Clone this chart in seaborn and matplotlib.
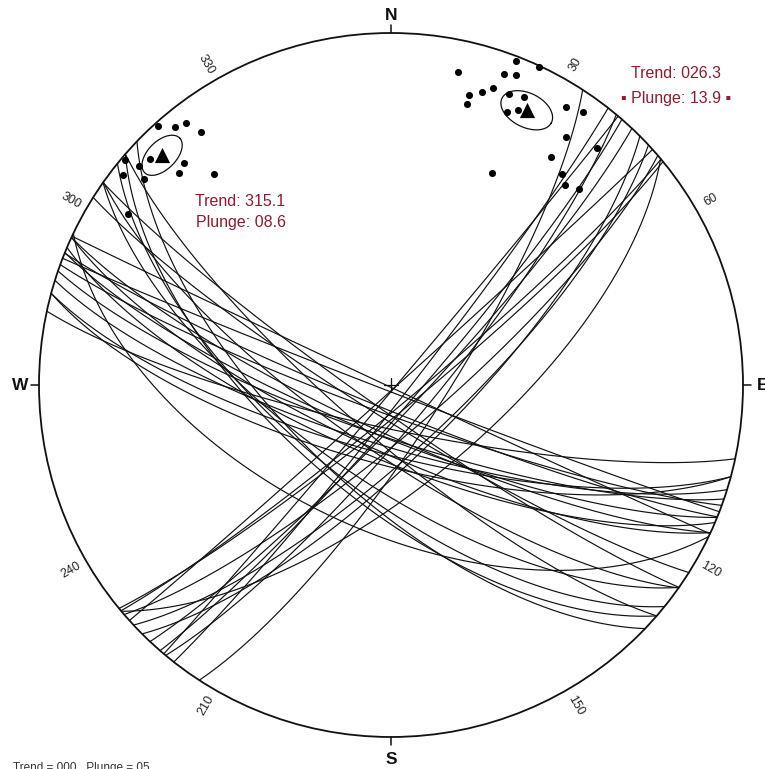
import numpy as np
import pandas as pd
import matplotlib
matplotlib.use("Agg")
import matplotlib.pyplot as plt
from matplotlib.patches import Circle
import seaborn as sns

# ---------------- data ----------------
# poles, NW cluster (trend, plunge in degrees)
poleA_trend = [318.0, 320.1, 322.0, 323.1, 310.2, 313.2, 317.0, 311.0, 308.1, 315.0, 309.8, 320.0, 303.0]
poleA_plunge = [1.0, 5.0, 6.2, 11.1, 1.0, 6.8, 14.9, 5.8, 3.7, 15.9, 9.5, 22.8, 11.9]
# poles, NNE cluster
poleB_trend = [12.1, 21.1, 25.0, 20.0, 22.0, 15.1, 17.3, 18.9, 15.1, 22.1, 24.8, 24.8, 23.0,
               32.2, 35.1, 35.2, 41.0, 35.1, 39.0, 41.0, 43.8, 25.5]
poleB_plunge = [10.0, 1.5, 0.5, 6.7, 5.6, 15.8, 13.9, 11.8, 18.4, 11.8, 10.8, 15.0, 16.9,
                7.4, 5.8, 14.9, 11.8, 21.9, 23.9, 25.7, 23.9, 33.7]
# great circles (right-hand-rule strike, dip)
planeA_strike = [48.0, 50.1, 50.6, 49.3, 40.2, 43.2, 47.0, 41.0, 38.1, 45.0, 39.8, 50.0, 33.0]
planeA_dip = [89.0, 85.0, 83.8, 78.9, 89.0, 83.2, 75.1, 84.2, 86.3, 74.1, 80.5, 67.2, 78.1]
planeB_strike = [102.1, 111.1, 115.0, 110.0, 112.0, 105.1, 107.3, 108.9, 105.1, 112.1, 114.8, 114.8, 113.0,
                 122.2, 125.1, 125.2, 131.0, 125.1, 129.0, 131.0, 133.8, 115.5]
planeB_dip = [80.0, 88.5, 89.5, 83.3, 84.4, 74.2, 76.1, 78.2, 71.6, 78.2, 79.2, 75.0, 73.1,
              82.6, 84.2, 75.1, 78.2, 68.1, 66.1, 64.3, 66.1, 56.3]
# mean poles and confidence cones
mean_trend = [315.1, 26.3]
mean_plunge = [8.6, 13.9]
cone_angle = [4.3, 5.0]
mean_labels = [["Trend: 315.1", "Plunge: 08.6"], ["Trend: 026.3", "\u25aa Plunge: 13.9 \u25aa"]]
tick_values = [30, 60, 120, 150, 210, 240, 300, 330]
cardinals = ["N", "E", "S", "W"]
footer_text = "Trend = 000   Plunge = 05"

# ---------------- helpers ----------------
CX, CY, R = 391, 385, 352
W_PX, H_PX = 765, 769
RED = "#8e1b2e"


def px(x, y):
    return (x - CX) / R, (CY - y) / R


def vec(trend, plunge):
    t, p = np.radians(trend), np.radians(plunge)
    return np.array([np.cos(p) * np.sin(t), np.cos(p) * np.cos(t), np.sin(p)])


def proj(v):
    e, n, d = v
    d = np.abs(d)
    return e / np.sqrt(1 + d), n / np.sqrt(1 + d)


def great_circle(strike, dip, n=240):
    s, dd, dp = np.radians(strike), np.radians(strike + 90), np.radians(dip)
    sv = np.array([np.sin(s), np.cos(s), 0.0])
    dv = np.array([np.sin(dd) * np.cos(dp), np.cos(dd) * np.cos(dp), np.sin(dp)])
    phi = np.linspace(0, np.pi, n)
    pts = np.outer(np.cos(phi), sv) + np.outer(np.sin(phi), dv)
    return proj(pts.T)


def small_circle(trend, plunge, alpha, n=200):
    m = vec(trend, plunge)
    u = np.cross(m, [0, 0, 1.0])
    u /= np.linalg.norm(u)
    w = np.cross(m, u)
    a = np.radians(alpha)
    psi = np.linspace(0, 2 * np.pi, n)
    pts = (np.cos(a) * m[:, None] + np.sin(a) * (np.outer(u, np.cos(psi)) + np.outer(w, np.sin(psi))))
    return proj(pts)


# ---------------- build tables ----------------
rows = []
k = 0
for st, dp in list(zip(planeA_strike, planeA_dip)) + list(zip(planeB_strike, planeB_dip)):
    x, y = great_circle(st, dp)
    rows.append(pd.DataFrame({"x": x, "y": y, "plane": k}))
    k += 1
gc = pd.concat(rows, ignore_index=True)

cones = []
for j, (t, p, a) in enumerate(zip(mean_trend, mean_plunge, cone_angle)):
    x, y = small_circle(t, p, a)
    cones.append(pd.DataFrame({"x": x, "y": y, "cone": j}))
cones = pd.concat(cones, ignore_index=True)

pt = poleA_trend + poleB_trend
pp = poleA_plunge + poleB_plunge
pxy = np.array([proj(vec(t, p)) for t, p in zip(pt, pp)])
poles = pd.DataFrame({"x": pxy[:, 0], "y": pxy[:, 1]})
mxy = np.array([proj(vec(t, p)) for t, p in zip(mean_trend, mean_plunge)])
means = pd.DataFrame({"x": mxy[:, 0], "y": mxy[:, 1]})

# ---------------- draw ----------------
sns.set_theme(style="white")
plt.rcParams["font.family"] = ["Liberation Sans", "DejaVu Sans"]

fig = plt.figure(figsize=(W_PX / 100, H_PX / 100), dpi=100)
ax = fig.add_axes([0, 0, 1, 1])
ax.set_xlim(-CX / R, (W_PX - CX) / R)
ax.set_ylim((CY - H_PX) / R, CY / R)
ax.axis("off")

sns.lineplot(data=gc, x="x", y="y", units="plane", estimator=None, sort=False,
             color="#111111", lw=0.85, ax=ax, legend=False)
sns.lineplot(data=cones, x="x", y="y", units="cone", estimator=None, sort=False,
             color="#111111", lw=0.9, ax=ax, legend=False)
ax.add_patch(Circle((0, 0), 1.0, fill=False, lw=1.3, ec="#111111", zorder=5))
sns.scatterplot(data=poles, x="x", y="y", s=26, color="black", linewidth=0, ax=ax, zorder=6)
sns.scatterplot(data=means, x="x", y="y", s=120, marker="^", color="black", linewidth=0, ax=ax, zorder=7)

# centre cross
c = 7 / R
ax.plot([-c, c], [0, 0], color="#111111", lw=0.9)
ax.plot([0, 0], [-c, c], color="#111111", lw=0.9)

# cardinal ticks and labels
tl = 8 / R
ax.plot([0, 0], [1, 1 + tl], color="#111111", lw=1.1)
ax.plot([0, 0], [-1, -1 - tl], color="#111111", lw=1.1)
ax.plot([-1, -1 - tl], [0, 0], color="#111111", lw=1.1)
ax.plot([1, 1 + tl], [0, 0], color="#111111", lw=1.1)
ax.text(*px(391, 16), cardinals[0], ha="center", va="center", fontsize=12.5, fontweight="bold", color="#111111")
ax.text(*px(757, 385), cardinals[1], ha="left", va="center", fontsize=12.5, fontweight="bold", color="#111111")
ax.text(*px(391, 759), cardinals[2], ha="center", va="center", fontsize=12.5, fontweight="bold", color="#111111")
ax.text(*px(20, 385), cardinals[3], ha="center", va="center", fontsize=12.5, fontweight="bold", color="#111111")

# degree labels
for a in tick_values:
    rr = 1.05
    x, y = rr * np.sin(np.radians(a)), rr * np.cos(np.radians(a))
    rot = 90 - a
    while rot <= -90:
        rot += 180
    while rot > 90:
        rot -= 180
    ax.text(x, y, str(a), ha="center", va="center", rotation=rot, rotation_mode="anchor",
            fontsize=9, color="#222222")

# mean annotations
ax.text(*px(240, 201), mean_labels[0][0], ha="center", va="center", fontsize=11.5, color=RED)
ax.text(*px(241, 222), mean_labels[0][1], ha="center", va="center", fontsize=11.5, color=RED)
ax.text(*px(676, 74), mean_labels[1][0], ha="center", va="center", fontsize=11.5, color=RED)
ax.text(*px(676, 98), mean_labels[1][1], ha="center", va="center", fontsize=11.5, color=RED)

# clipped footer text (only its top shows, as in the reference)
ax.text(*px(150, 762), footer_text, ha="right", va="top", fontsize=8.5, color="#333333")

fig.savefig("out.png", dpi=100)
